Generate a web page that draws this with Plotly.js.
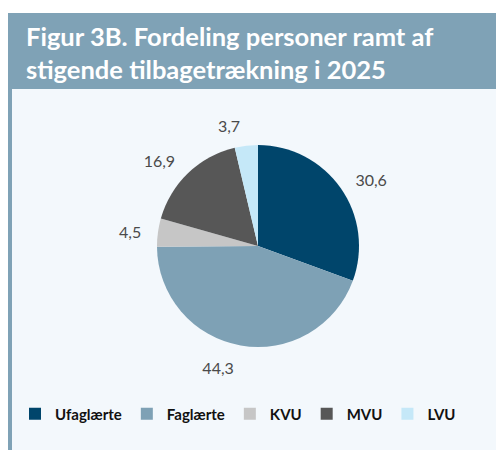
<!DOCTYPE html>
<html><head><meta charset="utf-8">
<script src="https://cdn.plot.ly/plotly-3.0.1.min.js"></script>
<style>html,body{margin:0;padding:0;background:#fff}#c{width:496px;height:450px}</style>
</head><body><div id="c"></div>
<script>
const categories = ["Ufaglærte", "Faglærte", "KVU", "MVU", "LVU"];
const shares = [30.6, 44.3, 4.5, 16.9, 3.7];
const colors = ["#00456b", "#7ea1b5", "#c6c6c6", "#575757", "#c5e8f8"];
const titleLines = ["Figur 3B. Fordeling personer ramt af", "stigende tilbagetrækning i 2025"];

const W = 496, H = 450;
const px = v => v / W, py = v => 1 - v / H;
const shareText = shares.map(v => v.toFixed(1).replace(".", ","));

// visible pie (slices)
const pie = {
  type: "pie",
  labels: categories,
  values: shares,
  textinfo: "none",
  sort: false,
  direction: "clockwise",
  rotation: 0,
  marker: {colors: colors, line: {width: 0}},
  domain: {x: [px(157), px(359)], y: [py(347), py(145)]},
  hoverinfo: "label+percent"
};
// same data, transparent, slightly larger: only carries the outside value labels
const labelPie = {
  type: "pie",
  labels: categories,
  values: shares,
  text: shareText,
  textinfo: "text",
  textposition: "outside",
  sort: false,
  direction: "clockwise",
  rotation: 0,
  showlegend: false,
  marker: {colors: colors.map(() => "rgba(0,0,0,0)"), line: {width: 0}},
  outsidetextfont: {family: "Lato", size: 16, color: "#4a4a4a"},
  domain: {x: [px(145), px(371)], y: [py(360), py(134)]},
  hoverinfo: "skip"
};

const layout = {
  width: W, height: H,
  margin: {l: 0, r: 0, t: 0, b: 0},
  paper_bgcolor: "#ffffff",
  font: {family: "Lato"},
  showlegend: true,
  legend: {
    orientation: "h", x: px(238), xanchor: "center", y: py(414), yanchor: "middle",
    font: {family: "Lato", size: 15, color: "#111111", weight: "bold"},
    itemwidth: 30, tracegroupgap: 0, bgcolor: "rgba(0,0,0,0)"
  },
  annotations: [{
    text: titleLines.join("<br>"),
    xref: "paper", yref: "paper",
    x: px(24), xanchor: "left", y: py(19), yanchor: "top",
    align: "left", showarrow: false,
    font: {family: "Lato", size: 25.5, color: "#ffffff", weight: "bold"}
  }],
  shapes: [
    {type: "rect", xref: "paper", yref: "paper", x0: px(8), x1: 1, y0: py(89), y1: py(13), fillcolor: "#7fa2b6", line: {width: 0}, layer: "below"},
    {type: "rect", xref: "paper", yref: "paper", x0: px(12), x1: 1, y0: 0, y1: py(89), fillcolor: "#f3f8fc", line: {width: 0}, layer: "below"},
    {type: "rect", xref: "paper", yref: "paper", x0: px(8), x1: px(12), y0: 0, y1: py(89), fillcolor: "#7fa2b6", line: {width: 0}, layer: "below"}
  ]
};

Plotly.newPlot("c", [labelPie, pie], layout, {displayModeBar: false, staticPlot: true});
</script></body></html>
